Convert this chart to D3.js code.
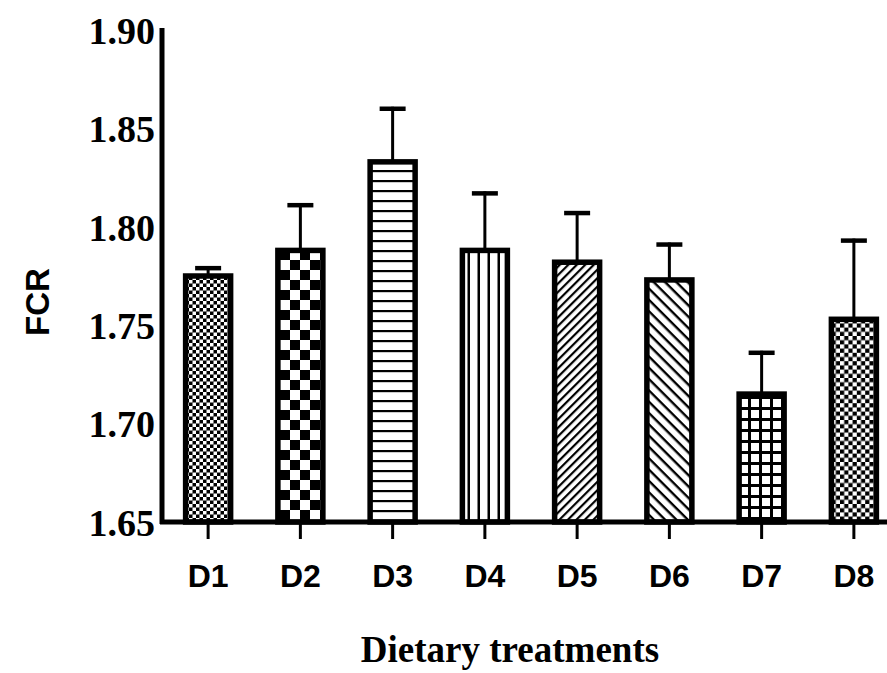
<!DOCTYPE html>
<html><head><meta charset="utf-8">
<script src="https://cdn.jsdelivr.net/npm/d3@7"></script>
<style>body{margin:0;background:#fff}svg{display:block}</style>
</head><body>
<script>
const categories = ["D1","D2","D3","D4","D5","D6","D7","D8"];
const means = [1.775, 1.788, 1.833, 1.788, 1.782, 1.773, 1.715, 1.753];
const errors = [0.005, 0.024, 0.028, 0.030, 0.026, 0.019, 0.022, 0.041];
const yTicks = [1.65, 1.70, 1.75, 1.80, 1.85, 1.90];
const patternIds = ["pD1","pD2","pD3","pD4","pD5","pD6","pD7","pD8"];

const W = 887, H = 673;
const svg = d3.select("body").append("svg").attr("width", W).attr("height", H);
const defs = svg.append("defs");

function checker(id, c){
  const p = defs.append("pattern").attr("id", id).attr("patternUnits","userSpaceOnUse")
    .attr("width", 2*c).attr("height", 2*c);
  p.append("rect").attr("width", 2*c).attr("height", 2*c).attr("fill","#000");
  p.append("rect").attr("width", c).attr("height", c).attr("fill","#fff");
  p.append("rect").attr("x", c).attr("y", c).attr("width", c).attr("height", c).attr("fill","#fff");
}
function lines(id, period, thick, angle){
  const p = defs.append("pattern").attr("id", id).attr("patternUnits","userSpaceOnUse")
    .attr("width", period).attr("height", period).attr("patternTransform", `rotate(${angle})`);
  p.append("rect").attr("width", period).attr("height", period).attr("fill","#fff");
  p.append("rect").attr("x", 0).attr("y", 0).attr("width", period).attr("height", thick).attr("fill","#000");
}
function grid(id, period, thick){
  const p = defs.append("pattern").attr("id", id).attr("patternUnits","userSpaceOnUse")
    .attr("width", period).attr("height", period);
  p.append("rect").attr("width", period).attr("height", period).attr("fill","#fff");
  p.append("rect").attr("width", period).attr("height", thick).attr("fill","#000");
  p.append("rect").attr("width", thick).attr("height", period).attr("fill","#000");
}
checker("pD1", 3.5);
checker("pD2", 10);
lines("pD3", 10, 2.2, 0);
lines("pD4", 10, 2.5, 90);
lines("pD5", 6, 2.2, -45);
lines("pD6", 8, 2.4, 45);
grid("pD7", 11, 3);
checker("pD8", 4.2);

const y = d3.scaleLinear().domain([1.65, 1.90]).range([522, 30]);
const x = d3.scaleBand().domain(categories).range([162, 900]).padding(0);
const barW = 45;

// bars
const g = svg.append("g");
categories.forEach((c, i) => {
  const cx = x(c) + x.bandwidth()/2;
  const top = y(means[i]);
  const etop = y(means[i] + errors[i]);
  g.append("line").attr("x1", cx).attr("x2", cx).attr("y1", top).attr("y2", etop)
    .attr("stroke","#000").attr("stroke-width",3);
  g.append("line").attr("x1", cx-13).attr("x2", cx+13).attr("y1", etop+2).attr("y2", etop+2)
    .attr("stroke","#000").attr("stroke-width",4.5);
  g.append("rect").attr("x", cx - barW/2).attr("y", top).attr("width", barW).attr("height", y(1.65) - top)
    .attr("fill", `url(#${patternIds[i]})`).attr("stroke","#000").attr("stroke-width",5.5);
});

// y axis
const yAxis = svg.append("g").attr("transform","translate(162,0)")
  .call(d3.axisLeft(y).tickValues(yTicks).tickFormat(d3.format(".2f")).tickSize(0).tickSizeOuter(0).tickPadding(7));
yAxis.select(".domain").attr("stroke","#000").attr("stroke-width",5).attr("d","M0,524V28");
yAxis.selectAll("text").attr("font-family","'Liberation Serif','Times New Roman',serif")
  .attr("font-weight","bold").attr("font-size",38).attr("fill","#000").attr("dy","0.35em");

// x axis
const xAxis = svg.append("g").attr("transform","translate(0,522)")
  .call(d3.axisBottom(x).tickSize(17).tickSizeOuter(0).tickPadding(25));
xAxis.select(".domain").attr("stroke","#000").attr("stroke-width",5).attr("d","M160,0H900");
xAxis.selectAll(".tick line").attr("stroke","#000").attr("stroke-width",3);
xAxis.selectAll("text").attr("font-family","'Liberation Sans',Arial,sans-serif")
  .attr("font-weight","bold").attr("font-size",32).attr("fill","#000");

// titles
svg.append("text").attr("transform","translate(49,302) rotate(-90)").attr("text-anchor","middle")
  .attr("font-family","'Liberation Sans',Arial,sans-serif").attr("font-weight","bold").attr("font-size",33)
  .text("FCR");
svg.append("text").attr("x",510).attr("y",662).attr("text-anchor","middle")
  .attr("font-family","'Liberation Serif','Times New Roman',serif").attr("font-weight","bold").attr("font-size",37)
  .text("Dietary treatments");
</script>
</body></html>
